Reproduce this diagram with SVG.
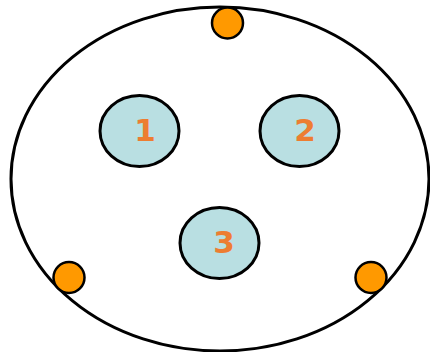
<svg xmlns="http://www.w3.org/2000/svg" width="430" height="352" viewBox="0 0 430 352">
<style>
.blue{fill:#b9dfe2;stroke:#000;stroke-width:3}
.dot{fill:#ff9900;stroke:#000;stroke-width:2.5}
.lbl{font-family:"DejaVu Sans",Verdana,sans-serif;font-weight:bold;font-size:31px;fill:#ed7d31;text-anchor:middle}
</style>
<rect width="430" height="352" fill="#fff"/>
<g id="outer"><ellipse cx="220" cy="179" rx="209" ry="172" fill="none" stroke="#000" stroke-width="3"/></g>
<g id="dot-top"><circle class="dot" cx="227.5" cy="23" r="15.5"/></g>
<g id="dot-left"><circle class="dot" cx="69" cy="277.5" r="15.5"/></g>
<g id="dot-right"><circle class="dot" cx="371" cy="277.5" r="15.5"/></g>
<g id="node1"><ellipse class="blue" cx="139.5" cy="131" rx="39.5" ry="35.5"/><text class="lbl" x="145" y="140.5">1</text></g>
<g id="node2"><ellipse class="blue" cx="299.5" cy="131" rx="39.5" ry="35.5"/><text class="lbl" x="305" y="140.5">2</text></g>
<g id="node3"><ellipse class="blue" cx="219.5" cy="243" rx="39.5" ry="35.5"/><text class="lbl" x="224" y="252.5">3</text></g>
<g id="connectors"></g>
</svg>
